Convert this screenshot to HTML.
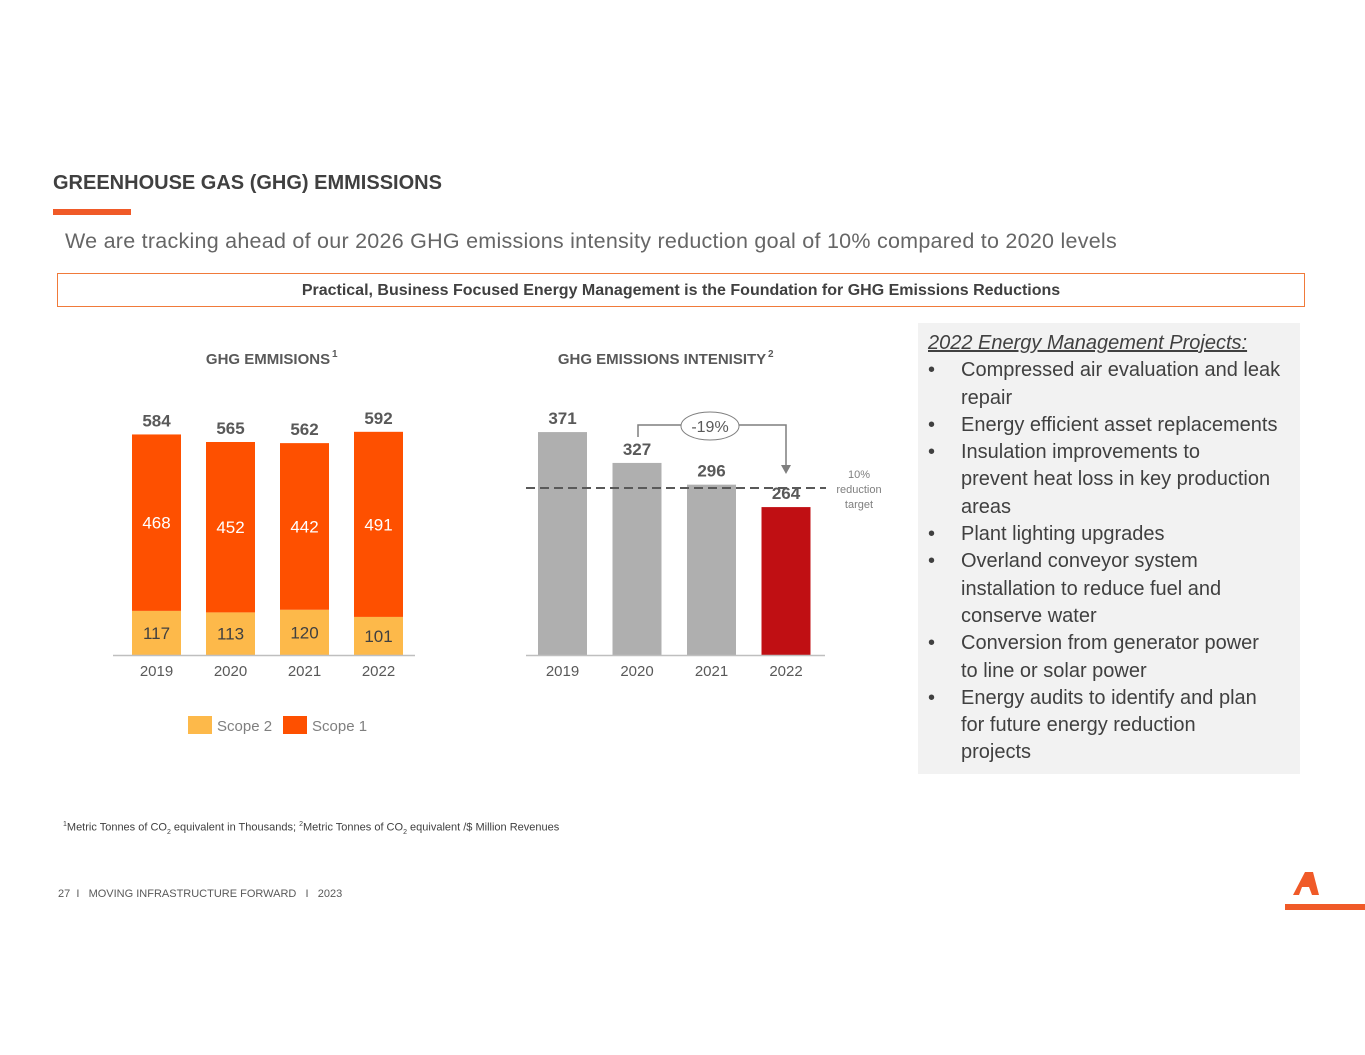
<!DOCTYPE html>
<html><head><meta charset="utf-8"><style>
body{margin:0;width:1365px;height:1055px;background:#fff;font-family:"Liberation Sans",sans-serif;position:relative;overflow:hidden}
.a{position:absolute;margin:0}
.li{position:relative;padding-left:33px;white-space:nowrap}
.li:before{content:"•";position:absolute;left:0}
</style></head><body>
<div class="a" style="left:53px;top:172px;font-size:20px;font-weight:bold;color:#404040">GREENHOUSE GAS (GHG) EMMISSIONS</div>
<div class="a" style="left:53px;top:209px;width:78px;height:6px;background:#f05a28"></div>
<div class="a" style="left:65px;top:229px;font-size:21.5px;color:#666;letter-spacing:0.25px">We are tracking ahead of our 2026 GHG emissions intensity reduction goal of 10% compared to 2020 levels</div>
<div class="a" style="left:57px;top:273px;width:1248px;height:34px;border:1px solid #f07a3a;box-sizing:border-box;text-align:center;line-height:33px;font-size:16px;font-weight:bold;color:#404040">Practical, Business Focused Energy Management is the Foundation for GHG Emissions Reductions</div>
<div class="a" style="left:918px;top:323px;width:382px;height:451px;background:#f2f2f2"></div>
<div class="a" style="left:928px;top:330px;width:370px;font-size:20px;line-height:27.3px;color:#404040">
<div style="font-style:italic;text-decoration:underline">2022 Energy Management Projects:</div>
<div class="li">Compressed air evaluation and leak<br>repair</div>
<div class="li">Energy efficient asset replacements</div>
<div class="li">Insulation improvements to<br>prevent heat loss in key production<br>areas</div>
<div class="li">Plant lighting upgrades</div>
<div class="li">Overland conveyor system<br>installation to reduce fuel and<br>conserve water</div>
<div class="li">Conversion from generator power<br>to line or solar power</div>
<div class="li">Energy audits to identify and plan<br>for future energy reduction<br>projects</div>
</div>
<div class="a" style="left:63px;top:821px;font-size:11px;color:#404040"><sup style="font-size:7px">1</sup>Metric Tonnes of CO<sub style="font-size:7px">2</sub> equivalent in Thousands; <sup style="font-size:7px">2</sup>Metric Tonnes of CO<sub style="font-size:7px">2</sub> equivalent /$ Million Revenues</div>
<div class="a" style="left:58px;top:888px;font-size:11px;color:#595959">27&nbsp; I &nbsp; MOVING INFRASTRUCTURE FORWARD &nbsp; I &nbsp; 2023</div>
<svg class="a" style="left:1285px;top:870px" width="80" height="42"><polygon points="20,2 28,2 34,25 27,25 24,17 17,17 14,25 8,25" fill="#f05a28"/><rect x="0" y="34" width="80" height="6" fill="#f05a28"/></svg>
<svg class="a" id="chart" style="left:0;top:0" width="1365" height="1055" font-family="Liberation Sans, sans-serif"></svg>
<script>
const years=['2019','2020','2021','2022'];
const scope1=[468,452,442,491];
const scope2=[117,113,120,101];
const totals=[584,565,562,592];
const intensity=[371,327,296,264];
const svg=document.getElementById('chart');const NS='http://www.w3.org/2000/svg';
function mk(t,a,txt){const e=document.createElementNS(NS,t);for(const k in a)e.setAttribute(k,a[k]);if(txt!==undefined)e.textContent=txt;svg.appendChild(e);return e;}
const base=655;
const y1=v=>v*0.377;
const x1=i=>132+i*74;
const y2=v=>(v-53)*0.701;
const x2=i=>538+i*74.5;
let e;
e=mk('text',{x:268,y:364,'text-anchor':'middle','font-size':15,'font-weight':'bold',fill:'#595959'},'GHG EMMISIONS');

mk('text',{x:332,y:357,'font-size':10,'font-weight':'bold',fill:'#595959'},'1');
e=mk('text',{x:662,y:364,'text-anchor':'middle','font-size':15,'font-weight':'bold',fill:'#595959'},'GHG EMISSIONS INTENISITY');

mk('text',{x:768,y:357,'font-size':10,'font-weight':'bold',fill:'#595959'},'2');
years.forEach((yr,i)=>{
 const x=x1(i),h2=y1(scope2[i]),h1=y1(scope1[i]);
 e=mk('rect',{x:x,y:base-h2,width:49,height:h2,fill:'#fdb94a'});
 
 e=mk('rect',{x:x,y:base-h2-h1,width:49,height:h1,fill:'#fe5000'});
 
 mk('text',{x:x+24.5,y:base-h2/2+6,'text-anchor':'middle','font-size':17,fill:'#404040'},scope2[i]);
 mk('text',{x:x+24.5,y:base-h2-h1/2+6,'text-anchor':'middle','font-size':17,fill:'#fff'},scope1[i]);
 mk('text',{x:x+24.5,y:base-h2-h1-8,'text-anchor':'middle','font-size':17,'font-weight':'bold',fill:'#595959'},totals[i]);
 mk('text',{x:x+24.5,y:676,'text-anchor':'middle','font-size':15,fill:'#595959'},yr);
 const xb=x2(i),h=y2(intensity[i]);
 e=mk('rect',{x:xb,y:base-h,width:49,height:h,fill:i==3?'#c00f13':'#afafaf'});
 
 mk('text',{x:xb+24.5,y:base-h-8,'text-anchor':'middle','font-size':17,'font-weight':'bold',fill:'#595959'},intensity[i]);
 mk('text',{x:xb+24.5,y:676,'text-anchor':'middle','font-size':15,fill:'#595959'},yr);
});
mk('line',{x1:113,x2:415,y1:655.5,y2:655.5,stroke:'#bfbfbf','stroke-width':1.5});
mk('line',{x1:526,x2:825,y1:655.5,y2:655.5,stroke:'#bfbfbf','stroke-width':1.5});
e=mk('line',{x1:526,x2:826,y1:488,y2:488,stroke:'#595959','stroke-width':2,'stroke-dasharray':'9,5'});

mk('text',{x:859,y:478,'text-anchor':'middle','font-size':11,fill:'#7f7f7f'},'10%');
mk('text',{x:859,y:493,'text-anchor':'middle','font-size':11,fill:'#7f7f7f'},'reduction');
mk('text',{x:859,y:508,'text-anchor':'middle','font-size':11,fill:'#7f7f7f'},'target');
mk('polyline',{points:'638,437 638,425 681,425',fill:'none',stroke:'#7f7f7f','stroke-width':1.5});
mk('polyline',{points:'739,425 786,425 786,465',fill:'none',stroke:'#7f7f7f','stroke-width':1.5});
mk('polygon',{points:'781,465 791,465 786,474',fill:'#7f7f7f'});
e=mk('ellipse',{cx:710,cy:426,rx:29,ry:14,fill:'#fff',stroke:'#7f7f7f','stroke-width':1});

mk('text',{x:710,y:432,'text-anchor':'middle','font-size':16,fill:'#595959'},'-19%');
e=mk('rect',{x:188,y:716,width:24,height:18,fill:'#fdb94a'});
mk('text',{x:217,y:731,'font-size':15,fill:'#7f7f7f'},'Scope 2');
e=mk('rect',{x:283,y:716,width:24,height:18,fill:'#fe5000'});
mk('text',{x:312,y:731,'font-size':15,fill:'#7f7f7f'},'Scope 1');
</script>
</body></html>
